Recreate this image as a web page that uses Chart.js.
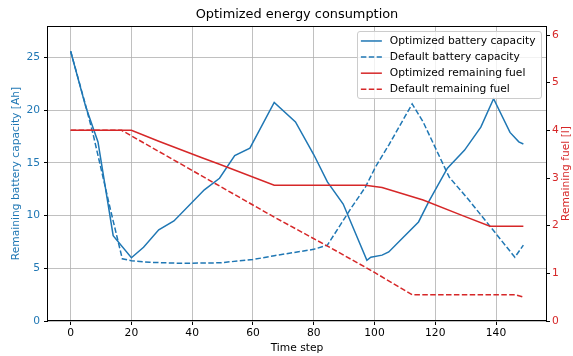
<!DOCTYPE html>
<html>
<head>
<meta charset="utf-8">
<script src="https://cdn.jsdelivr.net/npm/chart.js@4/dist/chart.umd.min.js"></script>
<style>
  body { margin: 0; background: #fff; }
  canvas { display: block; }
</style>
</head>
<body>
<canvas id="chart" width="573" height="356"></canvas>
<script>
// values
const optBattT  = [0, 5, 9, 14, 20, 24, 29, 34, 44, 49, 54, 59, 67, 74, 80, 84.5, 89.7, 97.5, 98.8, 102.5, 104.7, 109.5, 114.5, 118, 124, 129.6, 135, 139.2, 144.6, 147.5, 149];
const optBattAh = [25.6, 20.3, 17.0, 8.1, 6.0, 7.0, 8.65, 9.5, 12.45, 13.55, 15.7, 16.4, 20.75, 18.9, 15.8, 13.2, 11.1, 5.75, 6.05, 6.25, 6.55, 7.95, 9.4, 11.4, 14.5, 16.2, 18.4, 21.1, 17.9, 17.0, 16.8];

const defBattT  = [0, 5, 7.5, 13, 17, 20, 26, 36, 49, 60, 67, 80, 84.5, 92.5, 97, 100.3, 104.7, 112.4, 116, 124.6, 131, 138, 146.2, 149];
const defBattAh = [25.6, 20.4, 17.6, 10.7, 5.9, 5.72, 5.57, 5.48, 5.52, 5.83, 6.2, 6.8, 7.2, 10.8, 12.7, 14.6, 16.7, 20.6, 18.9, 13.65, 11.5, 9.0, 6.05, 7.2];

const optFuelT = [0, 20, 29, 43, 49, 67, 97, 102.5, 116, 129, 138, 149];
const optFuelL = [4.0, 4.0, 3.77, 3.43, 3.29, 2.85, 2.85, 2.8, 2.54, 2.21, 1.99, 1.99];

const defFuelT = [0, 16.8, 43, 67, 86, 100, 112.4, 146.5, 149];
const defFuelL = [4.0, 4.0, 3.05, 2.18, 1.52, 1.02, 0.55, 0.55, 0.5];

const xTicks  = [0, 20, 40, 60, 80, 100, 120, 140];
const yTicks  = [0, 5, 10, 15, 20, 25];
const y2Ticks = [0, 1, 2, 3, 4, 5, 6];

const seriesNames = ["Optimized battery capacity", "Default battery capacity", "Optimized remaining fuel", "Default remaining fuel"];

const BLUE = "#1f77b4";
const RED = "#d62728";
const DASH = [5.5, 2.4];
const FS = 10.7;

function pts(ts, vs) {
  return ts.map((t, i) => ({ x: t, y: vs[i] }));
}

Chart.defaults.font.family = "DejaVu Sans";
Chart.defaults.font.size = FS;
Chart.defaults.color = "#000";

// matplotlib-like frame, right axis label and legend box
const extras = {
  id: "extras",
  afterDraw(chart) {
    const ctx = chart.ctx;
    const ca = chart.chartArea;
    ctx.save();
    // spines
    ctx.strokeStyle = "#000";
    ctx.lineWidth = 1;
    ctx.strokeRect(Math.round(ca.left) - 0.5, Math.round(ca.top) + 0.5,
      Math.round(ca.right - ca.left) + 1, Math.round(ca.bottom - ca.top) - 1);

    // right axis label, reading bottom to top
    ctx.fillStyle = RED;
    ctx.font = FS + "px 'DejaVu Sans'";
    ctx.textAlign = "center";
    ctx.textBaseline = "middle";
    ctx.translate(566, (ca.top + ca.bottom) / 2);
    ctx.rotate(-Math.PI / 2);
    ctx.fillText("Remaining fuel [l]", 0, 0);
    ctx.restore();

    // legend
    ctx.save();
    ctx.font = FS + "px 'DejaVu Sans'";
    const ds = chart.data.datasets;
    let tw = 0;
    ds.forEach(d => { tw = Math.max(tw, ctx.measureText(d.label).width); });
    const right = ca.right - 5.5;
    const top = ca.top + 5.5;
    const w = 4 + 21 + 8 + tw + 5;
    const h = 9 + 16 * (ds.length - 1) + 10;
    const left = right - w;
    ctx.beginPath();
    ctx.roundRect(Math.round(left) + 0.5, Math.round(top) + 0.5, Math.round(w), Math.round(h), 2.5);
    ctx.fillStyle = "rgba(255,255,255,0.8)";
    ctx.fill();
    ctx.strokeStyle = "#cccccc";
    ctx.lineWidth = 1;
    ctx.stroke();
    ds.forEach((d, i) => {
      const y = top + 9.5 + i * 16.1;
      ctx.beginPath();
      ctx.setLineDash(d.borderDash || []);
      ctx.strokeStyle = d.borderColor;
      ctx.lineWidth = 1.5;
      ctx.moveTo(left + 4, y);
      ctx.lineTo(left + 25, y);
      ctx.stroke();
      ctx.setLineDash([]);
      ctx.fillStyle = "#000";
      ctx.textAlign = "left";
      ctx.textBaseline = "middle";
      ctx.fillText(d.label, left + 33, y);
    });
    ctx.restore();
  }
};

new Chart(document.getElementById("chart"), {
  type: "line",
  data: {
    datasets: [
      { label: seriesNames[0], data: pts(optBattT, optBattAh), yAxisID: "y", borderColor: BLUE, order: 2 },
      { label: seriesNames[1], data: pts(defBattT, defBattAh), yAxisID: "y", borderColor: BLUE, borderDash: DASH, order: 2 },
      { label: seriesNames[2], data: pts(optFuelT, optFuelL), yAxisID: "y2", borderColor: RED, order: 1 },
      { label: seriesNames[3], data: pts(defFuelT, defFuelL), yAxisID: "y2", borderColor: RED, borderDash: DASH, order: 1 }
    ]
  },
  plugins: [extras],
  options: {
    responsive: false,
    animation: false,
    events: [],
    elements: {
      point: { radius: 0 },
      line: { borderWidth: 1.5, tension: 0, fill: false }
    },
    layout: { padding: 0 },
    plugins: {
      legend: { display: false },
      tooltip: { enabled: false },
      title: {
        display: true,
        text: "Optimized energy consumption",
        fullSize: false,
        color: "#000",
        font: { size: 12.9, weight: "normal" },
        padding: { top: 7, bottom: 3.5 }
      }
    },
    scales: {
      x: {
        type: "linear",
        min: -7.45,
        max: 156.45,
        afterBuildTicks: s => { s.ticks = xTicks.map(v => ({ value: v })); },
        afterFit: s => { s.height = 35; },
        ticks: { maxRotation: 0, autoSkip: false, padding: 1.5, color: "#000" },
        grid: { color: "#b0b0b0", lineWidth: 0.8, tickLength: 4, tickColor: "#000", tickWidth: 1 },
        border: { display: false },
        title: { display: true, text: "Time step", color: "#000", font: { size: FS }, padding: { top: 0, bottom: 1.5 } }
      },
      y: {
        position: "left",
        min: 0,
        max: 28,
        afterBuildTicks: s => { s.ticks = yTicks.map(v => ({ value: v })); },
        afterFit: s => { s.width = 48; },
        ticks: { padding: 4, color: BLUE },
        grid: { color: "#b0b0b0", lineWidth: 0.8, tickLength: 4, tickColor: "#000", tickWidth: 1 },
        border: { display: false },
        title: { display: true, text: "Remaining battery capacity [Ah]", color: BLUE, font: { size: FS }, padding: { top: 10, bottom: 0 } }
      },
      y2: {
        position: "right",
        min: 0,
        max: 6.19,
        afterBuildTicks: s => { s.ticks = y2Ticks.map(v => ({ value: v })); },
        afterFit: s => { s.width = 27; },
        ticks: { padding: 2, color: RED },
        grid: { drawOnChartArea: false, tickLength: 4, tickColor: "#000", tickWidth: 1 },
        border: { display: false }
      }
    }
  }
});
</script>
</body>
</html>
